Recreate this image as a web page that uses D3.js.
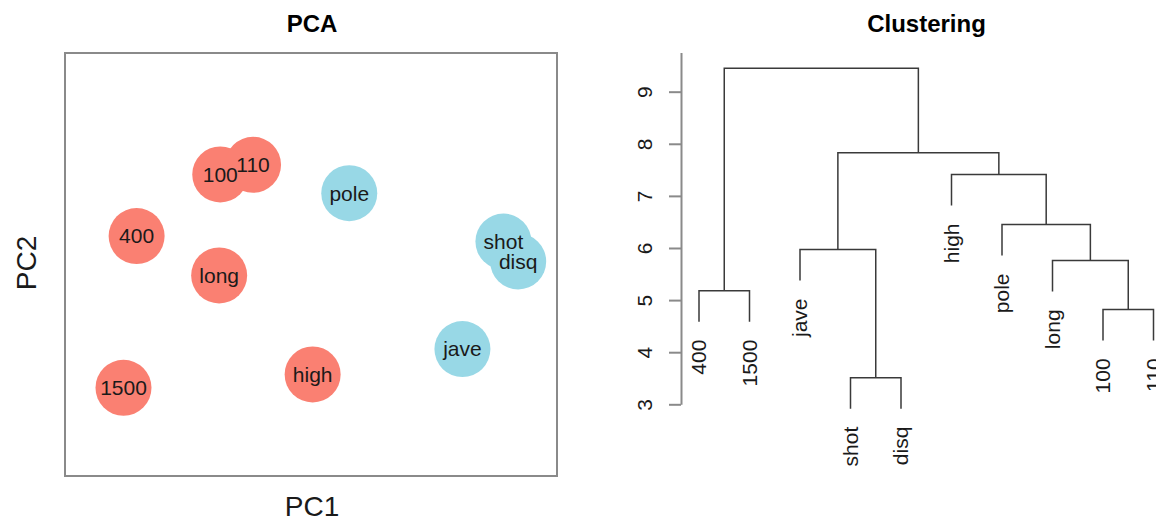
<!DOCTYPE html>
<html>
<head>
<meta charset="utf-8">
<script src="https://cdn.jsdelivr.net/npm/d3@7"></script>
<style>
  body { margin: 0; background: #fff; }
  svg { font-family: "Liberation Sans", Arial, Helvetica, sans-serif; }
</style>
</head>
<body>
<div id="chart"></div>
<script>
// PCA scores (arbitrary units)
const athletes = ["100", "110", "pole", "shot", "disq", "jave", "400", "long", "1500", "high"];
const groups   = ["a", "a", "b", "b", "b", "b", "a", "a", "a", "a"];
const pc1 = [-1.66, -1.06, 0.70, 3.52, 3.79, 2.77, -3.19, -1.68, -3.43, 0.03];
const pc2 = [1.49, 1.65, 1.18, 0.38, 0.05, -1.40, 0.47, -0.18, -2.04, -1.82];

// hierarchical clustering, leaves in plot order and merges in order of height
const leafOrder   = ["400", "1500", "jave", "shot", "disq", "high", "pole", "long", "100", "110"];
const mergeNodes  = ["m1", "m2", "m3", "m4", "m5", "m6", "m7", "m8", "m9"];
const mergeLeft   = ["shot", "100", "400", "long", "jave", "pole", "high", "m5", "m3"];
const mergeRight  = ["disq", "110", "1500", "m2", "m1", "m4", "m6", "m7", "m8"];
const mergeHeight = [3.51, 4.82, 5.18, 5.76, 5.97, 6.45, 7.41, 7.83, 9.45];
const heightTicks = [3, 4, 5, 6, 7, 8, 9];

const width = 1156, height = 522;
const colors = { a: "#fa8072", b: "#98d8e6" };

const svg = d3.select("#chart").append("svg")
  .attr("width", width)
  .attr("height", height);

// ---------- PCA panel ----------
const x = d3.scaleLinear().domain([-4.5, 4.5]).range([65, 557]);
const y = d3.scaleLinear().domain([-3.5, 3.5]).range([476, 53]);

const pca = svg.append("g");

const pts = athletes.map((a, i) => ({ name: a, g: groups[i], x: pc1[i], y: pc2[i] }));

pca.selectAll("circle").data(pts).enter().append("circle")
  .attr("cx", d => x(d.x))
  .attr("cy", d => y(d.y))
  .attr("r", 28)
  .attr("fill", d => colors[d.g]);

pca.selectAll("text.lab").data(pts).enter().append("text")
  .attr("class", "lab")
  .attr("x", d => x(d.x))
  .attr("y", d => y(d.y))
  .attr("dy", "0.35em")
  .attr("text-anchor", "middle")
  .style("font-size", "21px")
  .style("fill", "#1a1a1a")
  .text(d => d.name);

pca.append("rect")
  .attr("x", x.range()[0])
  .attr("y", y.range()[1])
  .attr("width", x.range()[1] - x.range()[0])
  .attr("height", y.range()[0] - y.range()[1])
  .attr("fill", "none")
  .attr("stroke", "#8a8a8a")
  .attr("stroke-width", 2);

pca.append("text")
  .attr("x", 312).attr("y", 32)
  .attr("text-anchor", "middle")
  .style("font-size", "24px").style("font-weight", "bold")
  .text("PCA");

pca.append("text")
  .attr("x", 312).attr("y", 516)
  .attr("text-anchor", "middle")
  .style("font-size", "28px").style("fill", "#1a1a1a")
  .text("PC1");

pca.append("text")
  .attr("transform", "translate(36,263) rotate(-90)")
  .attr("text-anchor", "middle")
  .style("font-size", "28px").style("fill", "#1a1a1a")
  .text("PC2");

// ---------- dendrogram ----------
const xd = d3.scalePoint().domain(leafOrder).range([699, 1153.5]);
const yd = d3.scaleLinear().domain([3, 9.75]).range([404.3, 52.6]);

// build the tree object from the merge arrays
const nodes = {};
leafOrder.forEach(l => { nodes[l] = { name: l, leaf: true }; });
mergeNodes.forEach((m, i) => {
  nodes[m] = { name: m, h: mergeHeight[i], children: [nodes[mergeLeft[i]], nodes[mergeRight[i]]] };
});
const root = d3.hierarchy(nodes[mergeNodes[mergeNodes.length - 1]]);
const hang = 0.1 * (d3.max(mergeHeight) - d3.min(mergeHeight));

root.eachAfter(n => {
  if (!n.children) n.px = xd(n.data.name);
  else n.px = (n.children[0].px + n.children[1].px) / 2;
});
root.each(n => {
  if (!n.children) n.hv = n.parent.data.h - hang;
  else n.hv = n.data.h;
});

const dend = svg.append("g");

dend.selectAll("path.link")
  .data(root.descendants().filter(n => n.children))
  .enter().append("path")
  .attr("class", "link")
  .attr("d", n => {
    const [l, r] = n.children;
    return "M" + l.px + "," + yd(l.hv) + "V" + yd(n.hv) + "H" + r.px + "V" + yd(r.hv);
  })
  .attr("fill", "none")
  .attr("stroke", "#3a3a3a")
  .attr("stroke-width", 1.5);

dend.selectAll("text.leaf")
  .data(root.leaves())
  .enter().append("text")
  .attr("class", "leaf")
  .attr("transform", n => "translate(" + n.px + "," + (yd(n.hv) + 18) + ") rotate(-90)")
  .attr("dy", "0.35em")
  .attr("text-anchor", "end")
  .style("font-size", "21px")
  .style("fill", "#1a1a1a")
  .text(n => n.data.name);

const yAxis = d3.axisLeft(yd)
  .tickValues(heightTicks)
  .tickFormat(d3.format("d"))
  .tickSize(12)
  .tickSizeOuter(0);
const ag = dend.append("g")
  .attr("transform", "translate(681,0)")
  .call(yAxis);
ag.select(".domain").attr("stroke", "#8a8a8a").attr("stroke-width", 2);
ag.selectAll(".tick line").attr("stroke", "#8a8a8a").attr("stroke-width", 2);
ag.selectAll(".tick text")
  .attr("x", null).attr("dy", "0.35em")
  .attr("transform", "translate(-36,0) rotate(-90)")
  .attr("text-anchor", "middle")
  .style("font-size", "21px")
  .style("font-family", "\"Liberation Sans\", Arial, Helvetica, sans-serif")
  .attr("fill", "#1a1a1a");

dend.append("text")
  .attr("x", 926.5).attr("y", 32)
  .attr("text-anchor", "middle")
  .style("font-size", "24px").style("font-weight", "bold")
  .text("Clustering");
</script>
</body>
</html>
